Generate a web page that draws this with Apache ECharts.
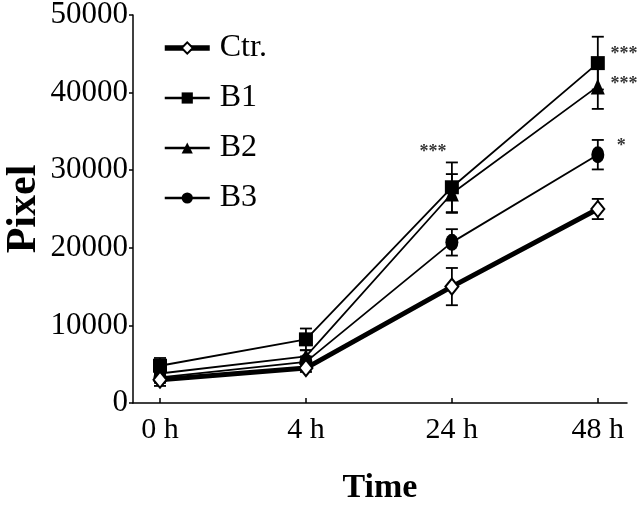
<!DOCTYPE html>
<html>
<head>
<meta charset="utf-8">
<script src="https://cdn.jsdelivr.net/npm/echarts@6/dist/echarts.min.js"></script>
<style>html,body{margin:0;padding:0;background:#fff;}#c{width:640px;height:509px;}</style>
</head>
<body>
<div id="c"></div>
<script>
const categories = ['0 h', '4 h', '24 h', '48 h'];
const seriesNames = ['Ctr.', 'B1', 'B2', 'B3'];
const ctr = [3000, 4500, 15000, 25000];
const b1 = [4800, 8200, 27800, 43800];
const b2 = [3800, 6000, 27000, 40800];
const b3 = [3300, 5300, 20700, 32000];
const ctrErr = [800, 500, 2400, 1300];
const b1Err = [1000, 1400, 3200, 3400];
const b2Err = [800, 800, 2500, 2900];
const b3Err = [700, 700, 1700, 1900];
const yTicks = [0, 10000, 20000, 30000, 40000, 50000];
const starLabels = [
  {x: 1.87, y: 32300, text: '***'},
  {x: 3.18, y: 44900, text: '***'},
  {x: 3.18, y: 41000, text: '***'},
  {x: 3.16, y: 33100, text: '*'}
];

const FONT = 'Liberation Serif';
const means = [ctr, b1, b2, b3];
const errs = [ctrErr, b1Err, b2Err, b3Err];
const symbols = ['diamond', 'rect', 'triangle', 'circle'];
const symbolSizes = [[13, 16], 14, [14, 16], [13, 17]];
const widths = [5, 1.8, 1.8, 1.8];

function errorSeries(idx) {
  const data = means[idx].map((m, i) => [i, m - errs[idx][i], m + errs[idx][i]]);
  return {
    type: 'custom',
    name: seriesNames[idx] + ' err',
    z: 1,
    silent: true,
    data: data,
    renderItem: function (params, api) {
      const x = api.value(0);
      const lo = api.coord([x, api.value(1)]);
      const hi = api.coord([x, api.value(2)]);
      const hw = 6;
      const st = {stroke: '#000', lineWidth: 1.8};
      return {
        type: 'group',
        children: [
          {type: 'line', shape: {x1: lo[0], y1: lo[1], x2: hi[0], y2: hi[1]}, style: st},
          {type: 'line', shape: {x1: lo[0] - hw, y1: lo[1], x2: lo[0] + hw, y2: lo[1]}, style: st},
          {type: 'line', shape: {x1: hi[0] - hw, y1: hi[1], x2: hi[0] + hw, y2: hi[1]}, style: st}
        ]
      };
    }
  };
}

const series = [];
for (let i = 0; i < 4; i++) series.push(errorSeries(i));
for (let i = 3; i >= 0; i--) {
  series.push({
    type: 'line',
    name: seriesNames[i],
    data: means[i].map((v, k) => [k, v]),
    symbol: symbols[i],
    symbolSize: symbolSizes[i],
    showAllSymbol: true,
    z: i === 0 ? 5 : 3,
    lineStyle: {color: '#000', width: widths[i]},
    itemStyle: i === 0 ? {color: '#fff', borderColor: '#000', borderWidth: 2} : {color: '#000', borderColor: '#000', borderWidth: 0},
    emphasis: {disabled: true}
  });
}
series.push({
  type: 'scatter',
  name: 'stars',
  symbolSize: 0,
  silent: true,
  data: starLabels.map(s => ({value: [s.x, s.y], label: {formatter: s.text}})),
  label: {show: true, position: 'inside', color: '#000', fontFamily: FONT, fontSize: 18, fontWeight: 'bold'}
});

const chart = echarts.init(document.getElementById('c'), null, {renderer: 'canvas'});
chart.setOption({
  backgroundColor: '#fff',
  animation: false,
  grid: {left: 133, right: 13, top: 15, bottom: 106, containLabel: false, outerBoundsMode: 'none'},
  legend: {
    data: seriesNames.map((n, i) => ({name: n, itemStyle: i === 0 ? {color: '#fff', borderColor: '#000', borderWidth: 2} : {color: '#000'}, lineStyle: {color: '#000', width: widths[i] + 0.5}})),
    orient: 'vertical',
    left: 157,
    top: 26,
    itemWidth: 45,
    itemHeight: 14,
    itemGap: 16,
    textStyle: {fontFamily: FONT, fontSize: 32, color: '#000', lineHeight: 34, padding: [0, 0, 0, 5]},
    selectedMode: false
  },
  xAxis: {
    type: 'value',
    min: -0.185,
    max: 3.2,
    name: 'Time',
    nameLocation: 'middle',
    nameGap: 68,
    nameTextStyle: {fontFamily: FONT, fontSize: 34, fontWeight: 'bold', color: '#000'},
    splitLine: {show: false},
    axisLine: {show: true, onZero: false, lineStyle: {color: '#000', width: 1.5}},
    axisTick: {show: true, inside: true, length: 5, customValues: [0, 1, 2, 3], lineStyle: {color: '#000', width: 1.5}},
    axisLabel: {
      customValues: [0, 1, 2, 3],
      formatter: v => categories[Math.round(v)],
      fontFamily: FONT, fontSize: 30, color: '#000', margin: 12
    }
  },
  yAxis: {
    type: 'value',
    min: 0,
    max: 50000,
    interval: 10000,
    name: 'Pixel',
    nameLocation: 'middle',
    nameGap: 88,
    nameMoveOverlap: false,
    nameRotate: 90,
    nameTextStyle: {fontFamily: FONT, fontSize: 42, fontWeight: 'bold', color: '#000'},
    splitLine: {show: false},
    axisLine: {show: true, onZero: false, lineStyle: {color: '#000', width: 1.5}},
    axisTick: {show: true, inside: false, length: 4, lineStyle: {color: '#000', width: 1.5}},
    axisLabel: {
      customValues: yTicks,
      formatter: v => String(v),
      fontFamily: FONT, fontSize: 31, color: '#000', margin: 5
    }
  },
  series: series
});
</script>
</body>
</html>
